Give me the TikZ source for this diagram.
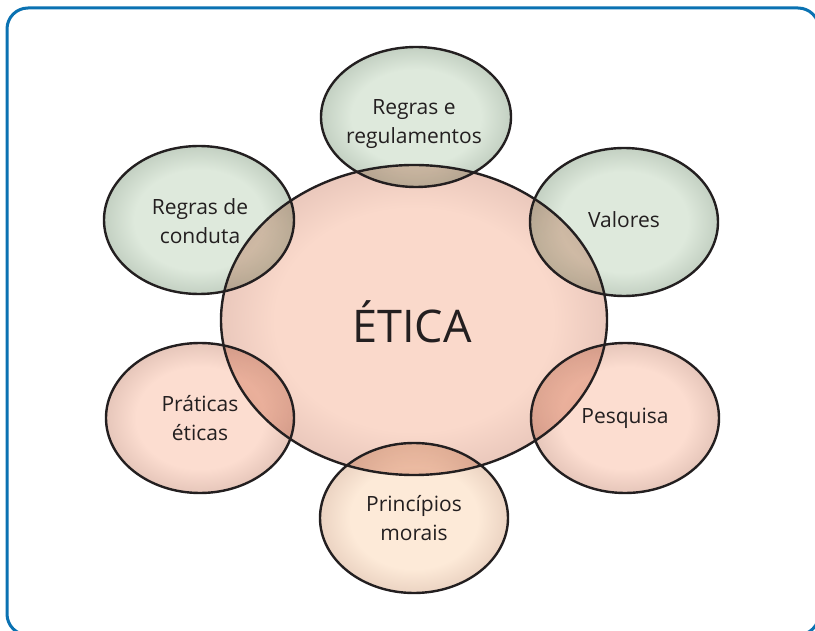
\documentclass[tikz,border=0pt]{standalone}
\usepackage{fontspec}
\setmainfont{Open Sans}
\definecolor{frameblue}{HTML}{0A72B2}
\definecolor{ink}{HTML}{231F20}
\definecolor{gC}{HTML}{DEE9DC}
\definecolor{gE}{HTML}{C3D0C2}
\definecolor{pC}{HTML}{FCDDD0}
\definecolor{pE}{HTML}{E6C6BA}
\definecolor{eC}{HTML}{FAD9CB}
\definecolor{eE}{HTML}{EAC8BC}
\definecolor{cC}{HTML}{FDEAD8}
\definecolor{cE}{HTML}{EBD3C2}
\pgfdeclareradialshading{greenrim}{\pgfpoint{0bp}{0bp}}{color(0bp)=(gC); color(17bp)=(gC); color(25bp)=(gE); color(50bp)=(gE)}
\pgfdeclareradialshading{pinkrim}{\pgfpoint{0bp}{0bp}}{color(0bp)=(pC); color(17bp)=(pC); color(25bp)=(pE); color(50bp)=(pE)}
\pgfdeclareradialshading{eticarim}{\pgfpoint{0bp}{0bp}}{color(0bp)=(eC); color(18bp)=(eC); color(25bp)=(eE); color(50bp)=(eE)}
\pgfdeclareradialshading{creamrim}{\pgfpoint{0bp}{0bp}}{color(0bp)=(cC); color(17bp)=(cC); color(25bp)=(cE); color(50bp)=(cE)}
\tikzset{
  outline/.style={draw=ink, line width=2.4pt},
  lbl/.style={text=ink, align=center, font=\fontsize{21}{29.5}\selectfont},
  biglbl/.style={text=ink, font=\fontsize{45}{50}\selectfont},
}
\begin{document}
\begin{tikzpicture}[x=1pt, y=-1pt]
\useasboundingbox (0,0) rectangle (815,631);
% frame
\draw[frameblue, line width=3pt, rounded corners=21pt] (7,8) rectangle (819,635);
% fills
\begin{scope}[blend group=multiply]
  \path[shading=eticarim] (414,320) ellipse [x radius=193pt, y radius=155pt];
  \path[shading=greenrim] (416,117) ellipse [x radius=95pt, y radius=70pt];
  \path[shading=greenrim] (199,220) ellipse [x radius=95pt, y radius=74pt];
  \path[shading=greenrim] (624,222) ellipse [x radius=94pt, y radius=74pt];
  \path[shading=pinkrim] (200,418) ellipse [x radius=94pt, y radius=75pt];
  \path[shading=pinkrim] (625,418) ellipse [x radius=94pt, y radius=75pt];
  \path[shading=creamrim] (414,518) ellipse [x radius=94pt, y radius=75pt];
\end{scope}
% outlines
\draw[outline] (414,320) ellipse [x radius=193pt, y radius=155pt];
\draw[outline] (416,117) ellipse [x radius=95pt, y radius=70pt];
\draw[outline] (199,220) ellipse [x radius=95pt, y radius=74pt];
\draw[outline] (624,222) ellipse [x radius=94pt, y radius=74pt];
\draw[outline] (200,418) ellipse [x radius=94pt, y radius=75pt];
\draw[outline] (625,418) ellipse [x radius=94pt, y radius=75pt];
\draw[outline] (414,518) ellipse [x radius=94pt, y radius=75pt];
% labels
\node[biglbl] (etica) at (412,322) {ÉTICA};
\node[lbl] (regras) at (414,124) {Regras e\\regulamentos};
\node[lbl] (conduta) at (200,221) {Regras de\\conduta};
\node[lbl] (valores) at (624,220) {Valores};
\node[lbl] (praticas) at (200,418) {Práticas\\éticas};
\node[lbl] (pesquisa) at (625,418) {Pesquisa};
\node[lbl] (principios) at (414,518) {Princípios\\morais};
\end{tikzpicture}
\end{document}
